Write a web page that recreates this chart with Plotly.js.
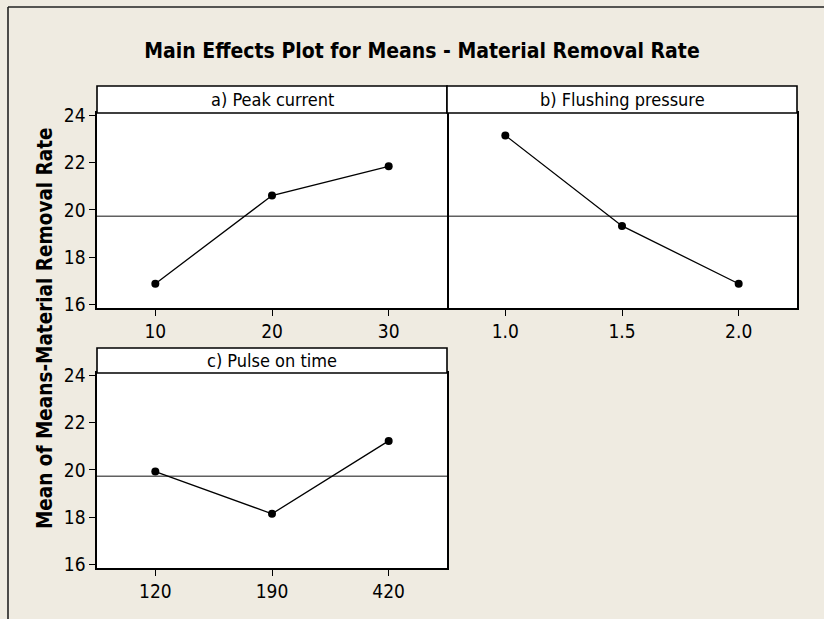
<!DOCTYPE html>
<html>
<head>
<meta charset="utf-8">
<script src="https://cdn.plot.ly/plotly-3.0.1.min.js"></script>
<style>html,body{margin:0;padding:0;background:#EFEBE1;}#chart{width:824px;height:619px;}</style>
</head>
<body>
<div id="chart"></div>
<script>
// ---- data ----
const peakCurrentLevels = ['10', '20', '30'];
const peakCurrentMeans = [16.87, 20.61, 21.85];
const flushingLevels = ['1.0', '1.5', '2.0'];
const flushingMeans = [23.16, 19.32, 16.87];
const pulseOnLevels = ['120', '190', '420'];
const pulseOnMeans = [19.93, 18.14, 21.23];
const grandMean = 19.73;
const panelTitles = ['a) Peak current', 'b) Flushing pressure', 'c) Pulse on time'];
const yTicks = [16, 18, 20, 22, 24];

const FONT = '"DejaVu Sans Condensed", "DejaVu Sans", sans-serif';
const W = 824, H = 619;
const px = v => v / W;
const py = v => 1 - v / H;

function series(xs, ys, xa, ya) {
  return {
    x: xs, y: ys, xaxis: xa, yaxis: ya, type: 'scatter', mode: 'lines+markers',
    line: {color: '#000', width: 1.3},
    marker: {color: '#000', size: 8},
    hoverinfo: 'x+y', showlegend: false
  };
}

const data = [
  series(peakCurrentLevels, peakCurrentMeans, 'x', 'y'),
  series(flushingLevels, flushingMeans, 'x2', 'y2'),
  series(pulseOnLevels, pulseOnMeans, 'x3', 'y3')
];

const yRange = [15.84, 24.11];
const dA = [px(97), px(447)], dB = [px(447), px(797)];
const rowTop = [py(308), py(113)], rowBot = [py(568), py(373)];
const TICKSIZE = 19;

function xax(domain, anchor, cats) {
  return {
    domain: domain, anchor: anchor, type: 'category', categoryarray: cats,
    range: [-0.5, 2.5], showgrid: false, zeroline: false,
    showline: true, mirror: true, linecolor: '#000', linewidth: 1.6,
    ticks: 'outside', ticklen: 6, tickcolor: '#000', tickwidth: 1,
    tickfont: {family: FONT, size: TICKSIZE, color: '#000'}, fixedrange: true
  };
}
function yax(domain, anchor, labels) {
  const a = {
    domain: domain, anchor: anchor, range: yRange, showgrid: false, zeroline: false,
    showline: true, mirror: true, linecolor: '#000', linewidth: 1.6,
    tickvals: yTicks, ticks: 'outside', ticklen: 6, tickcolor: '#000', tickwidth: 1,
    showticklabels: true,
    tickfont: {family: FONT, size: TICKSIZE, color: '#000'}, fixedrange: true
  };
  if (!labels) {
    a.side = 'right'; a.mirror = false; a.ticks = ''; a.showticklabels = false;
  }
  return a;
}

const shapes = [];
const annotations = [];
// grand mean reference lines
[['x', 'y'], ['x2', 'y2'], ['x3', 'y3']].forEach(([xa, ya]) => {
  shapes.push({type: 'line', xref: xa + ' domain', yref: ya, x0: 0, x1: 1, y0: grandMean, y1: grandMean,
    line: {color: '#606060', width: 1.6}, layer: 'below'});
});
// strips
const strips = [
  {x: dA, y: [py(113), py(86)], t: panelTitles[0]},
  {x: dB, y: [py(113), py(86)], t: panelTitles[1]},
  {x: dA, y: [py(373), py(348)], t: panelTitles[2]}
];
strips.forEach(s => {
  shapes.push({type: 'rect', xref: 'paper', yref: 'paper', x0: s.x[0], x1: s.x[1], y0: s.y[0], y1: s.y[1],
    fillcolor: '#fff', line: {color: '#000', width: 1.6}});
  annotations.push({xref: 'paper', yref: 'paper', x: (s.x[0] + s.x[1]) / 2, y: (s.y[0] + s.y[1]) / 2,
    xanchor: 'center', yanchor: 'middle', showarrow: false, text: s.t,
    font: {family: FONT, size: 18, color: '#000'}});
});
// outer frame (top and left)
shapes.push({type: 'line', xref: 'paper', yref: 'paper', x0: px(8), x1: 1, y0: py(7), y1: py(7), line: {color: '#222', width: 1.6}});
shapes.push({type: 'line', xref: 'paper', yref: 'paper', x0: px(8), x1: px(8), y0: py(7), y1: 0, line: {color: '#222', width: 1.6}});
// y axis title
annotations.push({xref: 'paper', yref: 'paper', x: px(45), y: py(328), xanchor: 'center', yanchor: 'middle',
  showarrow: false, textangle: -90, text: '<b>Mean of Means-Material Removal Rate</b>',
  font: {family: FONT, size: 20.5, color: '#000'}});

const layout = {
  width: W, height: H,
  margin: {l: 0, r: 0, t: 0, b: 0},
  paper_bgcolor: '#EFEBE1', plot_bgcolor: '#fff',
  title: {text: '<b>Main Effects Plot for Means - Material Removal Rate</b>', x: px(422), y: py(51),
    xanchor: 'center', yanchor: 'middle', font: {family: FONT, size: 21, color: '#000'}},
  xaxis: xax(dA, 'y', peakCurrentLevels),
  yaxis: yax(rowTop, 'x', true),
  xaxis2: xax(dB, 'y2', flushingLevels),
  yaxis2: yax(rowTop, 'x2', false),
  xaxis3: xax(dA, 'y3', pulseOnLevels),
  yaxis3: yax(rowBot, 'x3', true),
  shapes: shapes, annotations: annotations, showlegend: false
};

Plotly.newPlot('chart', data, layout, {displayModeBar: false, staticPlot: true});
</script>
</body>
</html>
